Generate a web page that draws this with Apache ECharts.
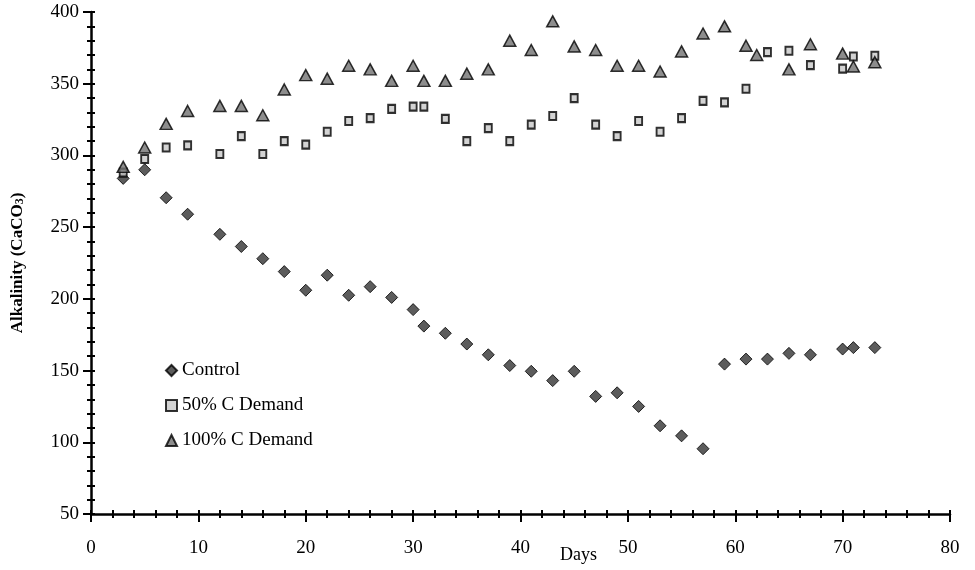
<!DOCTYPE html>
<html>
<head>
<meta charset="utf-8">
<title>Alkalinity</title>
<script src="https://cdn.jsdelivr.net/npm/echarts@6/dist/echarts.min.js"></script>
<style>
  html, body { margin: 0; padding: 0; background: #fff; }
  #chart { width: 975px; height: 570px; }
</style>
</head>
<body>
<div id="chart"></div>
<script>
// days of sampling
var controlDays = [3,5,7,9,12,14,16,18,20,22,24,26,28,30,31,33,35,37,39,41,43,45,47,49,51,53,55,57,59,61,63,65,67,70,71,73];
var controlVals = [284,290,270.5,259,245,236.5,228,219,206,216.5,202.5,208.5,201,192.5,181,176,168.5,161,153.5,149.5,143,149.5,132,134.5,125,111.5,104.5,95.5,154.5,158,158,162,161,165,166,166];

var halfDays = [3,5,7,9,12,14,16,18,20,22,24,26,28,30,31,33,35,37,39,41,43,45,47,49,51,53,55,57,59,61,63,65,67,70,71,73];
var halfVals = [288,297.5,305.5,307,301,313.5,301,310,307.5,316.5,324,326,332.5,334,334,325.5,310,319,310,321.5,327.5,340,321.5,313.5,324,316.5,326,338,337,346.5,372,373,363,360.5,369,369.5];

var fullDays = [3,5,7,9,12,14,16,18,20,22,24,26,28,30,31,33,35,37,39,41,43,45,47,49,51,53,55,57,59,61,62,65,67,70,71,73];
var fullVals = [292,305.5,322,331,334.5,334.5,328,346,356,353.5,362.5,360,352,362.5,352,352,357,360,380,373.5,393.5,376,373.5,362.5,362.5,358.5,372.5,385,390,376.5,370,360,377.5,371,362,365];

var seriesNames = ['Control', '50% C Demand', '100% C Demand'];

function pairs(xs, ys) {
  var out = [];
  for (var i = 0; i < xs.length; i++) out.push([xs[i], ys[i]]);
  return out;
}

var serif = 'Liberation Serif';
var chart = echarts.init(document.getElementById('chart'));

var option = {
  animation: false,
  backgroundColor: '#fff',
  grid: { left: 91, right: 25, top: 12, bottom: 56, outerBoundsMode: 'none', containLabel: false },
  legend: {
    orient: 'vertical',
    left: 160,
    top: 356,
    itemWidth: 11,
    itemHeight: 11,
    itemGap: 16,
    textStyle: { fontFamily: serif, fontSize: 19, color: '#000' },
    data: seriesNames
  },
  xAxis: [{
    type: 'value', min: 0, max: 80, interval: 10,
    axisLine: { onZero: false, lineStyle: { color: '#000', width: 2.5 } },
    axisTick: { length: 8, lineStyle: { color: '#000', width: 2 } },
    minorTick: { show: true, splitNumber: 5, length: 4, lineStyle: { color: '#000', width: 2 } },
    axisLabel: { fontFamily: serif, fontSize: 19, color: '#000', margin: 25 },
    splitLine: { show: false }
  }, {
    // inner half of the ticks
    type: 'value', min: 0, max: 80, interval: 2, position: 'bottom',
    axisLine: { show: false, onZero: false },
    axisTick: { inside: true, length: 4, lineStyle: { color: '#000', width: 2 } },
    axisLabel: { show: false },
    splitLine: { show: false }
  }],
  yAxis: [{
    type: 'value', min: 50, max: 400, interval: 50,
    name: '{a|Alkalinity (CaCO}{s|3}{a|)}',
    nameLocation: 'middle',
    nameGap: 65,
    nameRotate: 90,
    nameTextStyle: {
      rich: {
        a: { fontFamily: serif, fontSize: 17, fontWeight: 'bold', color: '#000', lineHeight: 18, verticalAlign: 'bottom' },
        s: { fontFamily: serif, fontSize: 12, fontWeight: 'bold', color: '#000', lineHeight: 12, padding: [18, 0, 0, 0], verticalAlign: 'bottom' }
      }
    },
    axisLine: { onZero: false, lineStyle: { color: '#000', width: 2.5 } },
    axisTick: { length: 8, lineStyle: { color: '#000', width: 2 } },
    minorTick: { show: true, splitNumber: 5, length: 4, lineStyle: { color: '#000', width: 2 } },
    axisLabel: { fontFamily: serif, fontSize: 19, color: '#000', margin: 12 },
    splitLine: { show: false }
  }, {
    type: 'value', min: 50, max: 400, interval: 10, position: 'left',
    axisLine: { show: false, onZero: false },
    axisTick: { inside: true, length: 4, lineStyle: { color: '#000', width: 2 } },
    axisLabel: { show: false },
    splitLine: { show: false }
  }],
  graphic: [{
    type: 'text', left: 560, top: 546,
    style: { text: 'Days', fontFamily: serif, fontSize: 18, fill: '#000' }
  }],
  series: [{
    name: seriesNames[0],
    type: 'scatter',
    symbol: 'diamond',
    symbolSize: 12,
    itemStyle: { color: '#333', borderColor: '#000', borderWidth: 1 },
    data: pairs(controlDays, controlVals)
  }, {
    name: seriesNames[1],
    type: 'scatter',
    symbol: 'rect',
    symbolSize: [7, 8],
    itemStyle: { color: '#c8c8c8', borderColor: '#000', borderWidth: 2 },
    data: pairs(halfDays, halfVals)
  }, {
    name: seriesNames[2],
    type: 'scatter',
    symbol: 'triangle',
    symbolSize: [12, 11],
    itemStyle: { color: '#707070', borderColor: '#000', borderWidth: 1.5 },
    data: pairs(fullDays, fullVals)
  }]
};

chart.setOption(option);
</script>
</body>
</html>
